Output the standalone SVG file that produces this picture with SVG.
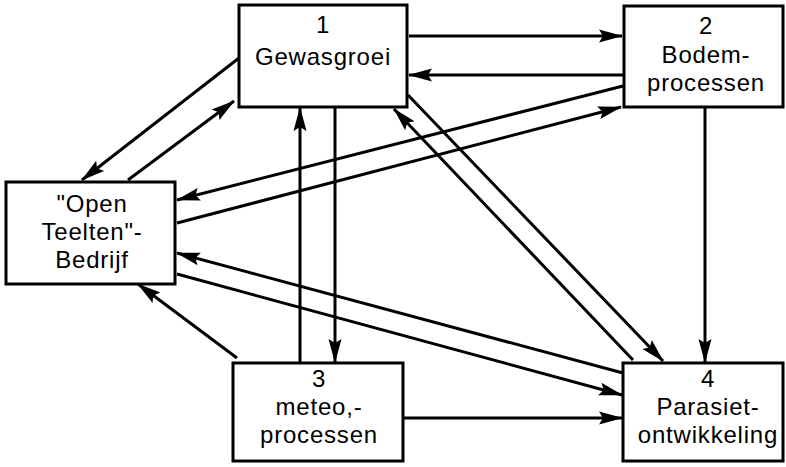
<svg xmlns="http://www.w3.org/2000/svg" width="786" height="467" viewBox="0 0 786 467">
<defs>
<marker id="ah" markerUnits="userSpaceOnUse" markerWidth="24" markerHeight="16" refX="23" refY="8" orient="auto">
<path d="M0,1.5 L24,8 L0,14.5 L4,8 z" fill="#000"/>
</marker>
<style>
.box{fill:#fff;stroke:#000;stroke-width:3}
.t{font-family:"Liberation Sans",Arial,Helvetica,sans-serif;font-size:24px;letter-spacing:0.8px;fill:#000;text-anchor:middle}
.c{fill:none;stroke:#000;stroke-width:3;marker-end:url(#ah)}
</style>
</defs>
<rect width="786" height="467" fill="#fff"/>
<g id="connectors">
<line class="c" x1="409" y1="36" x2="622" y2="36"/>
<line class="c" x1="623" y1="75" x2="409" y2="75"/>
<line class="c" x1="623" y1="86" x2="177" y2="200"/>
<line class="c" x1="177" y1="223" x2="621" y2="107"/>
<line class="c" x1="239" y1="58" x2="82" y2="180"/>
<line class="c" x1="128" y1="180" x2="234" y2="101"/>
<line class="c" x1="335" y1="108" x2="335" y2="362"/>
<line class="c" x1="300" y1="362" x2="300" y2="108"/>
<line class="c" x1="408" y1="95" x2="663" y2="361"/>
<line class="c" x1="633" y1="360" x2="394" y2="109"/>
<line class="c" x1="705" y1="108" x2="705" y2="362"/>
<line class="c" x1="623" y1="373" x2="177" y2="253"/>
<line class="c" x1="177" y1="274" x2="622" y2="395"/>
<line class="c" x1="404" y1="418" x2="622" y2="418"/>
<line class="c" x1="237" y1="358" x2="138" y2="284"/>
</g>
<g id="node1">
<rect class="box" x="239" y="5" width="168" height="102"/>
<text class="t" x="323" y="33">1</text>
<text class="t" x="323" y="65">Gewasgroei</text>
</g>
<g id="node2">
<rect class="box" x="624" y="6" width="159" height="101"/>
<text class="t" x="706" y="34">2</text>
<text class="t" x="706" y="63">Bodem-</text>
<text class="t" x="706" y="91">processen</text>
</g>
<g id="nodeOpen">
<rect class="box" x="6" y="182" width="169" height="102"/>
<text class="t" x="92" y="212">"Open</text>
<text class="t" x="92" y="240">Teelten"-</text>
<text class="t" x="92" y="268">Bedrijf</text>
</g>
<g id="node3">
<rect class="box" x="233" y="363" width="170" height="98"/>
<text class="t" x="319" y="387">3</text>
<text class="t" x="319" y="415">meteo,-</text>
<text class="t" x="319" y="443">processen</text>
</g>
<g id="node4">
<rect class="box" x="623" y="363" width="160" height="98"/>
<text class="t" x="708" y="387">4</text>
<text class="t" x="708" y="415">Parasiet-</text>
<text class="t" x="708" y="443">ontwikkeling</text>
</g>
</svg>
